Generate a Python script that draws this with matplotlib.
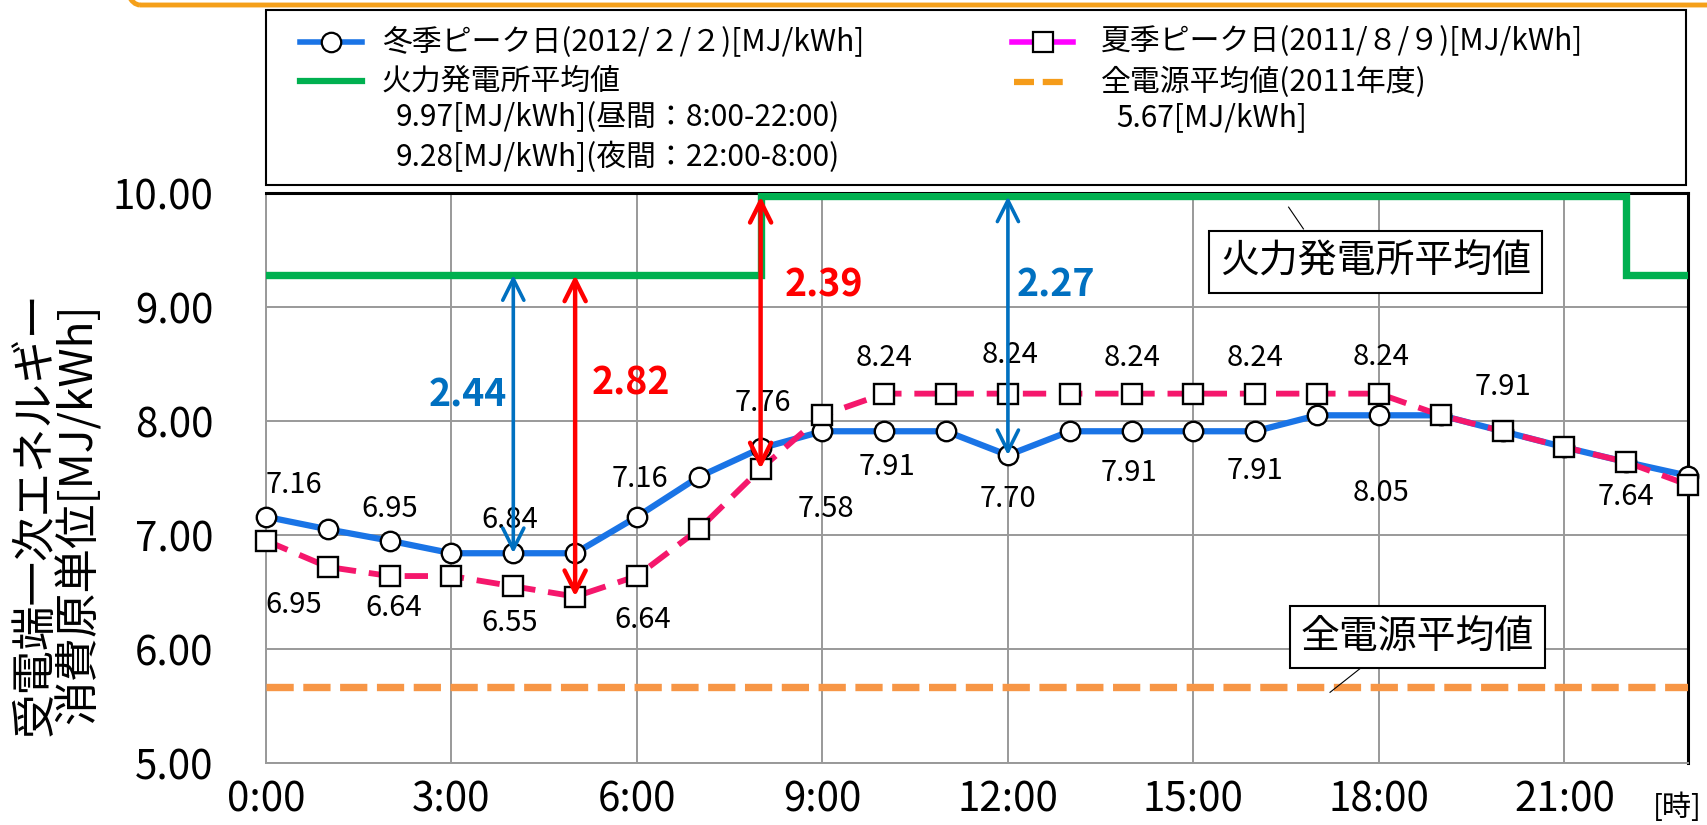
import matplotlib
matplotlib.use("Agg")
import matplotlib.pyplot as plt
from matplotlib.lines import Line2D
from matplotlib.patches import Rectangle, FancyBboxPatch
from matplotlib.transforms import IdentityTransform

plt.rcParams['font.family'] = ['Noto Sans CJK JP', 'DejaVu Sans']

# ---------------- data ----------------
hours = list(range(24))
winter = [7.16, 7.05, 6.95, 6.84, 6.84, 6.84, 7.16, 7.51, 7.76, 7.91, 7.91, 7.91,
          7.70, 7.91, 7.91, 7.91, 7.91, 8.05, 8.05, 8.05, 7.91, 7.77, 7.64, 7.52]
summer = [6.95, 6.72, 6.64, 6.64, 6.55, 6.46, 6.64, 7.05, 7.58, 8.05, 8.24, 8.24,
          8.24, 8.24, 8.24, 8.24, 8.24, 8.24, 8.24, 8.05, 7.91, 7.77, 7.64, 7.44]
thermal_day = 9.97
thermal_night = 9.28
day_start, day_end = 8, 22
all_source = 5.67
x_ticks = [0, 3, 6, 9, 12, 15, 18, 21]
x_ticklabels = ['0:00', '3:00', '6:00', '9:00', '12:00', '15:00', '18:00', '21:00']
y_ticks = [5, 6, 7, 8, 9, 10]

# labelled points: (hour, dx, dy) offsets in data units for label placement
winter_labels = [(0, 0.45, 0.28), (2, 0.0, 0.28), (4, -0.06, 0.29), (6, 0.05, 0.33),
                 (8, 0.03, 0.40), (10, 0.04, -0.31), (12, 0.0, -0.38),
                 (14, -0.04, -0.37), (16, 0.0, -0.35), (18, 0.03, -0.68)]
summer_labels = [(0, 0.45, -0.56), (2, 0.07, -0.28), (4, -0.06, -0.32), (6, 0.09, -0.39),
                 (8, 1.05, -0.35), (10, 0.0, 0.31), (12, 0.04, 0.34), (14, 0.0, 0.31),
                 (16, 0.0, 0.31), (18, 0.03, 0.32), (20, 0.0, 0.39), (22, -0.01, -0.31)]

# difference arrows: (hour, top value, bottom value, colour, label x, label y)
diff_arrows = [(4, thermal_night, winter[4], '#0070c0', 3.27, 8.23),
               (5, thermal_night, summer[5], '#ff0000', 5.91, 8.33),
               (8, thermal_day, summer[8], '#ff0000', 9.03, 9.19),
               (12, thermal_day, winter[12], '#0070c0', 12.78, 9.19)]

# ---------------- figure ----------------
W, H = 1707, 825
fig = plt.figure(figsize=(W / 100, H / 100), dpi=100)
ax = fig.add_axes([266 / W, 62 / H, 1422 / W, 570 / H])

# decorative orange rounded frame at top
frame = FancyBboxPatch((112, H - 5), 1800, 200, boxstyle="round,pad=0,rounding_size=28",
                       transform=IdentityTransform(), fill=False, ec='#f5a01a', lw=3.5,
                       clip_on=False)
fig.patches.append(frame)

blue = '#1a74e6'
pink = '#f5176c'
green = '#00b050'
orange = '#f79646'

# thermal average step line
tx = [0, day_start, day_start, day_end, day_end, hours[-1]]
ty = [thermal_night, thermal_night, thermal_day, thermal_day, thermal_night, thermal_night]
ax.plot(tx, ty, color=green, lw=5.3, solid_joinstyle='miter', zorder=3)
# all-source average
ax.plot([0, hours[-1]], [all_source, all_source], color=orange, lw=5.3,
        dashes=(3.7, 1.3), zorder=3)

ax.plot(hours, winter, color=blue, lw=4.5, marker='o', ms=14, mfc='white', mec='black',
        mew=1.7, zorder=5, clip_on=False)
ax.plot(hours, summer, color=pink, lw=4.2, dashes=(4.0, 2.2), marker='s', ms=15,
        mfc='white', mec='black', mew=1.7, zorder=6, clip_on=False)

dfs = 21
for h, dx, dy in winter_labels:
    ax.text(h + dx, winter[h] + dy, f"{winter[h]:.2f}", fontsize=dfs, ha='center',
            va='center', zorder=8)
for h, dx, dy in summer_labels:
    ax.text(h + dx, summer[h] + dy, f"{summer[h]:.2f}", fontsize=dfs, ha='center',
            va='center', zorder=8)

for h, top, bot, col, lx, ly in diff_arrows:
    lw = 3.2 if col == '#ff0000' else 2.6
    ax.annotate('', xy=(h, bot), xytext=(h, top),
                arrowprops=dict(arrowstyle='<->', color=col, lw=lw, mutation_scale=38,
                                shrinkA=0, shrinkB=0), zorder=9)
    ax.text(lx, ly, f"{top - bot:.2f}", color=col, fontsize=27, fontweight='bold',
            ha='center', va='center', zorder=9)

# callout boxes
ax.plot([16.54, 16.78], [9.876, 9.685], color='black', lw=0.8, zorder=7)
ax.text(17.94, 9.395, '火力発電所平均値', fontsize=28, ha='center', va='center', zorder=8,
        bbox=dict(boxstyle='square,pad=0.28', fc='white', ec='black', lw=1.5))
ax.plot([17.21, 17.70], [5.62, 5.83], color='black', lw=0.8, zorder=7)
ax.text(18.62, 6.105, '全電源平均値', fontsize=28, ha='center', va='center', zorder=8,
        bbox=dict(boxstyle='square,pad=0.28', fc='white', ec='black', lw=1.5))

ax.set_xlim(0, hours[-1])
ax.set_ylim(5, 10)
ax.set_xticks(x_ticks)
ax.set_xticklabels(x_ticklabels)
ax.set_yticks(y_ticks)
ax.set_yticklabels([f"{v:.2f}" for v in y_ticks])
ax.tick_params(axis='both', length=0, labelsize=29)
ax.tick_params(axis='y', pad=38)
ax.tick_params(axis='x', pad=12)
ax.grid(True, color='#999999', lw=1.4)
ax.set_axisbelow(True)
for s in ['left', 'bottom']:
    ax.spines[s].set_color('#999999')
    ax.spines[s].set_linewidth(1.4)
for s in ['top', 'right']:
    ax.spines[s].set_color('black')
    ax.spines[s].set_linewidth(2.2)

fig.text(1677 / W, 1 - 808 / H, '[時]', fontsize=21, ha='center', va='center')
fig.text(57 / W, 1 - 514 / H, '受電端一次エネルギー\n消費原単位[MJ/kWh]', fontsize=32,
         rotation=90, ha='center', va='center', multialignment='center', linespacing=0.95)

# ---------------- legend (drawn in figure pixels) ----------------
def fx(px):
    return px / W

def fy(py):
    return 1 - py / H

fig.patches.append(Rectangle((fx(266), fy(185)), fx(1686) - fx(266), fy(10) - fy(185),
                             transform=fig.transFigure, fill=False, ec='black', lw=1.5))

def handle(x0, x1, y, **kw):
    fig.lines.append(Line2D([fx(x0), fx(x1)], [fy(y), fy(y)], transform=fig.transFigure, **kw))

handle(300, 362, 42, color=blue, lw=4)
fig.lines.append(Line2D([fx(331)], [fy(42)], transform=fig.transFigure, marker='o', ms=14,
                        mfc='white', mec='black', mew=1.6, ls='none'))
handle(300, 362, 81, color=green, lw=4.5)
handle(1012, 1073, 42, color='#ff00ff', lw=4)
fig.lines.append(Line2D([fx(1043)], [fy(42)], transform=fig.transFigure, marker='s', ms=15,
                        mfc='white', mec='black', mew=1.6, ls='none'))
handle(1014, 1071, 82, color='#f59c1a', lw=4.5, dashes=(3.2, 1.4))

lfs = 21.5
fig.text(fx(382), fy(42), '冬季ピーク日(2012/２/２)[MJ/kWh]', fontsize=lfs, va='center')
fig.text(fx(382), fy(81), '火力発電所平均値', fontsize=lfs, va='center')
fig.text(fx(396), fy(118), f'{thermal_day:.2f}[MJ/kWh](昼間：8:00-22:00)', fontsize=lfs,
         va='center')
fig.text(fx(396), fy(157), f'{thermal_night:.2f}[MJ/kWh](夜間：22:00-8:00)', fontsize=lfs,
         va='center')
fig.text(fx(1101), fy(42), '夏季ピーク日(2011/８/９)[MJ/kWh]', fontsize=lfs, va='center')
fig.text(fx(1101), fy(82), '全電源平均値(2011年度)', fontsize=lfs, va='center')
fig.text(fx(1116), fy(118), f'{all_source:.2f}[MJ/kWh]', fontsize=lfs, va='center')

fig.savefig('out.png', dpi=100)
